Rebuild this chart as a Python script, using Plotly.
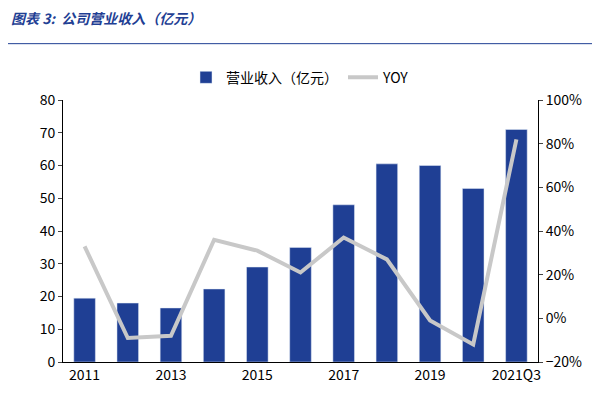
import plotly.graph_objects as go

years = ["2011","2012","2013","2014","2015","2016","2017","2018","2019","2020","2021Q3"]
revenue = [19.5, 18.0, 16.5, 22.3, 29.0, 35.0, 48.0, 60.5, 60.0, 53.0, 71.0]
yoy = [33, -9, -8, 36, 31, 21, 37, 27, -1, -12, 82]
shown_ticks = ["2011","2013","2015","2017","2019","2021Q3"]

fig = go.Figure()
fig.add_trace(go.Bar(x=years, y=revenue, name="营业收入（亿元）", marker_color="#1F3F94", width=0.5))
fig.add_trace(go.Scatter(x=years, y=yoy, name="YOY", yaxis="y2", mode="lines",
                         line=dict(color="#C8C8C8", width=4)))
fig.update_layout(
    width=600, height=400, plot_bgcolor="white", paper_bgcolor="white",
    margin=dict(l=55, r=70, t=92, b=46),
    font=dict(family="Noto Sans CJK SC", size=14, color="black"),
    title=dict(text="<b><i>图表 3:  公司营业收入（亿元）</i></b>", x=0.005, y=0.985,
               xanchor="left", yanchor="top", font=dict(size=14, color="#1F3F94")),
    legend=dict(orientation="h", x=0.5, xanchor="center", y=1.085, yanchor="middle",
                font=dict(size=14)),
    xaxis=dict(type="category", tickvals=shown_ticks, showline=True, linecolor="black",
               ticks="", showgrid=False),
    yaxis=dict(range=[0, 80], dtick=10, showgrid=False, showline=True, linecolor="black",
               ticks="outside", ticklen=4),
    yaxis2=dict(overlaying="y", side="right", range=[-20, 100], dtick=20, ticksuffix="%",
                showgrid=False, showline=True, linecolor="black", ticks="outside", ticklen=4),
    bargap=0.5,
)
fig.add_shape(type="line", xref="paper", yref="paper", x0=-0.12, x1=1.16, y0=1.215, y1=1.215,
              line=dict(color="#1F3F94", width=1))
fig.write_html("out.html")
